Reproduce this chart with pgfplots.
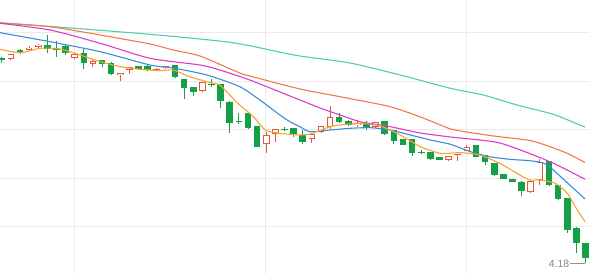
\documentclass[border=0pt]{standalone}
\usepackage{pgfplots}
\pgfplotsset{compat=1.18}
\usepackage{pgfplotstable}
\usepackage{fontspec}
\setmainfont{Liberation Sans}
\definecolor{upred}{HTML}{E8573B}
\definecolor{dngreen}{HTML}{14A046}
\definecolor{gridc}{HTML}{F0E9EC}
\definecolor{cteal}{HTML}{4FCFA2}
\definecolor{cored}{HTML}{F2784B}
\definecolor{cmag}{HTML}{DC3CC8}
\definecolor{cblue}{HTML}{3C8CDC}
\definecolor{corange}{HTML}{F5A532}
\pgfplotstableread{
i o h l c
0 6.225 6.24 6.18 6.215
1 6.22 6.275 6.215 6.27
2 6.315 6.32 6.27 6.295
3 6.31 6.35 6.305 6.335
4 6.345 6.375 6.33 6.365
5 6.365 6.46 6.28 6.317
6 6.32 6.405 6.245 6.31
7 6.353 6.36 6.26 6.28
8 6.227 6.285 6.225 6.27
9 6.283 6.317 6.12 6.177
10 6.17 6.207 6.14 6.203
11 6.21 6.215 6.14 6.17
12 6.183 6.19 6.065 6.07
13 6.057 6.08 6.003 6.077
14 6.11 6.14 6.07 6.137
15 6.15 6.15 6.11 6.117
16 6.155 6.16 6.10 6.11
17 6.11 6.13 6.10 6.12
18 6.127 6.155 6.125 6.153
19 6.16 6.165 6.027 6.043
20 6.02 6.025 5.817 5.927
21 5.937 5.94 5.853 5.887
22 5.903 5.99 5.887 5.987
23 5.97 6.017 5.943 5.96
24 5.97 5.975 5.727 5.803
25 5.793 5.80 5.483 5.577
26 5.603 5.683 5.57 5.593
27 5.677 5.68 5.52 5.527
28 5.55 5.555 5.34 5.343
29 5.367 5.493 5.283 5.46
30 5.47 5.523 5.387 5.52
31 5.52 5.537 5.50 5.51
32 5.533 5.535 5.437 5.47
33 5.46 5.51 5.37 5.393
34 5.417 5.475 5.383 5.47
35 5.493 5.555 5.477 5.553
36 5.543 5.753 5.52 5.637
37 5.637 5.677 5.58 5.587
38 5.60 5.61 5.55 5.56
39 5.56 5.61 5.543 5.583
40 5.577 5.603 5.51 5.527
41 5.537 5.59 5.535 5.587
42 5.60 5.603 5.465 5.467
43 5.51 5.513 5.367 5.403
44 5.417 5.42 5.357 5.36
45 5.417 5.42 5.25 5.277
46 5.29 5.31 5.267 5.28
47 5.287 5.29 5.215 5.217
48 5.243 5.245 5.21 5.21
49 5.21 5.253 5.20 5.25
50 5.257 5.273 5.203 5.27
51 5.303 5.36 5.30 5.343
52 5.36 5.363 5.24 5.243
53 5.26 5.263 5.16 5.187
54 5.183 5.185 5.055 5.06
55 5.07 5.073 5.017 5.02
56 5.02 5.023 4.99 4.993
57 4.993 4.997 4.85 4.90
58 4.893 5.007 4.877 5.003
59 5.01 5.217 4.96 5.193
60 5.20 5.203 4.955 4.96
61 4.96 4.963 4.813 4.817
62 4.827 4.83 4.483 4.51
63 4.533 4.537 4.277 4.383
64 4.377 4.38 4.18 4.227
}\candles
\pgfplotsset{
  candle/.style={draw=none, mark=none, forget plot},
  ma/.style={line width=1.1pt, smooth, tension=0.4},
}
\begin{document}
\begin{tikzpicture}
\useasboundingbox (0,0) rectangle (600pt,274pt);
\begin{axis}[
  at={(0,0)}, anchor=south west,
  scale only axis, width=590pt, height=274pt,
  xmin=-0.19, xmax=64.5, ymin=4.07, ymax=6.81,
  hide axis,
]
% grid
\addplot[gridc, line width=0.7pt, forget plot] coordinates {(-0.19,6.49) (64.5,6.49)};
\addplot[gridc, line width=0.7pt, forget plot] coordinates {(-0.19,6.00) (64.5,6.00)};
\addplot[gridc, line width=0.7pt, forget plot] coordinates {(-0.19,5.52) (64.5,5.52)};
\addplot[gridc, line width=0.7pt, forget plot] coordinates {(-0.19,5.03) (64.5,5.03)};
\addplot[gridc, line width=0.7pt, forget plot] coordinates {(-0.19,4.55) (64.5,4.55)};
\addplot[gridc, line width=0.7pt, forget plot] coordinates {(7.93,4.07) (7.93,6.81)};
\addplot[gridc, line width=0.7pt, forget plot] coordinates {(28.87,4.07) (28.87,6.81)};
\addplot[gridc, line width=0.7pt, forget plot] coordinates {(50.91,4.07) (50.91,6.81)};
% down candles: wick + filled body
\addplot[candle, error bars/.cd, y dir=plus, y explicit, error mark=none,
  error bar style={draw=dngreen, line width=0.9pt}]
  table[x=i, y=l, y error plus expr={(\thisrow{c}<=\thisrow{o})*(\thisrow{h}-\thisrow{l})}] \candles;
\addplot[candle, error bars/.cd, y dir=plus, y explicit, error mark=none,
  error bar style={draw=dngreen, line width=6.6pt}]
  table[x=i, y expr={min(\thisrow{o},\thisrow{c})}, y error plus expr={(\thisrow{c}<=\thisrow{o})*max(abs(\thisrow{c}-\thisrow{o}),0.012)}] \candles;
% up candles: wick + hollow body
\addplot[candle, error bars/.cd, y dir=plus, y explicit, error mark=none,
  error bar style={draw=upred, line width=0.9pt}]
  table[x=i, y=l, y error plus expr={(\thisrow{c}>\thisrow{o})*(\thisrow{h}-\thisrow{l})}] \candles;
\addplot[candle, error bars/.cd, y dir=plus, y explicit, error mark=none,
  error bar style={draw=upred, line width=6.6pt}]
  table[x=i, y expr={min(\thisrow{o},\thisrow{c})}, y error plus expr={(\thisrow{c}>\thisrow{o})*max(abs(\thisrow{c}-\thisrow{o}),0.012)}] \candles;
\addplot[candle, error bars/.cd, y dir=plus, y explicit, error mark=none,
  error bar style={draw=white, line width=4.8pt}]
  table[x=i, y expr={min(\thisrow{o},\thisrow{c})+0.009}, y error plus expr={(\thisrow{c}>\thisrow{o})*max(abs(\thisrow{c}-\thisrow{o})-0.018,0)}] \candles;
% MA lines
\addplot[cteal, ma] coordinates {
(-0.19,6.583) (8.0,6.527) (16.26,6.467) (21.74,6.42) (25.0,6.387) (27.2,6.353)
(29.75,6.303) (32.7,6.25) (38.2,6.18) (43.7,6.06) (49.2,5.927) (52.8,5.86)
(56.5,5.76) (60.1,5.677) (61.2,5.643) (63.4,5.56) (63.96,5.54)};
\addplot[cored, ma] coordinates {
(-0.19,6.58) (5.3,6.543) (10.8,6.46) (16.26,6.37) (18.8,6.31) (21.74,6.25)
(26.1,6.08) (27.2,6.05) (32.7,5.92) (37.1,5.843) (42.6,5.743) (46.2,5.63)
(49.2,5.52) (50.3,5.50) (53.5,5.455) (57.9,5.405) (60.1,5.343) (62.0,5.277) (63.96,5.185)};
\addplot[cmag, ma] coordinates {
(-0.19,6.577) (5.3,6.51) (10.8,6.377) (16.26,6.227) (21.74,6.16) (23.9,6.11)
(27.2,6.01) (32.7,5.81) (34.9,5.73) (37.1,5.66) (39.3,5.593) (42.6,5.543)
(45.9,5.48) (49.2,5.44) (54.6,5.38) (60.1,5.193) (63.96,5.017)};
\addplot[cblue, ma] coordinates {
(-0.19,6.483) (5.3,6.393) (10.8,6.293) (16.26,6.16) (18.8,6.13) (22.5,6.06)
(26.1,5.943) (28.3,5.81) (30.5,5.66) (31.6,5.593) (32.7,5.543) (33.8,5.493)
(36.0,5.51) (38.2,5.527) (40.4,5.533) (42.6,5.51) (44.8,5.46) (47.0,5.41)
(49.2,5.367) (51.4,5.293) (53.5,5.243) (55.7,5.217) (57.9,5.203) (59.4,5.18)
(60.1,5.14) (61.2,5.05) (63.96,4.82)};
\addplot[corange, ma] coordinates {
(-0.19,6.317) (2.0,6.283) (4.2,6.327) (6.4,6.32) (8.6,6.26) (10.8,6.193)
(13.0,6.143) (15.2,6.117) (17.4,6.103) (18.8,6.11) (20.6,6.043) (22.5,5.993)
(23.9,5.96) (25.0,5.86) (26.1,5.76) (27.6,5.643) (28.9,5.51) (30.5,5.477)
(32.7,5.46) (33.8,5.47) (36.0,5.543) (37.1,5.56) (39.3,5.577) (41.5,5.55)
(43.7,5.46) (45.9,5.343) (48.1,5.277) (50.3,5.283) (52.4,5.26) (54.6,5.177)
(56.8,5.06) (57.9,5.01) (59.0,5.01) (60.7,4.977) (62.0,4.877) (63.1,4.71) (63.96,4.593)};
\draw[color=gray!85, line width=0.6pt] (axis cs:62.35,4.175) -- (axis cs:63.96,4.175);
\node[anchor=east, inner sep=1pt, text=gray!95, font=\fontsize{10.5}{11}\selectfont] at (axis cs:62.35,4.175) {4.18};
\end{axis}
\end{tikzpicture}
\end{document}
